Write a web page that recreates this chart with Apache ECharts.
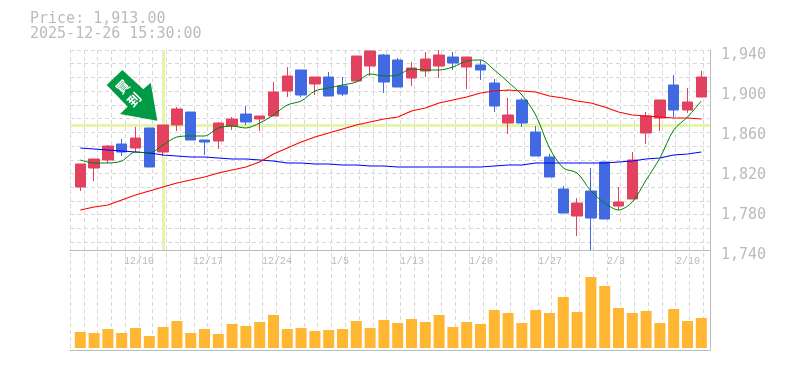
<!DOCTYPE html>
<html><head><meta charset="utf-8">
<style>html,body{margin:0;padding:0;background:#fff}#c{width:785px;height:370px}</style>
<script src="https://cdn.jsdelivr.net/npm/echarts@6/dist/echarts.min.js"></script>
</head><body><div id="c"></div>
<script>
const dates = ['12/4','12/5','12/8','12/9','12/10','12/11','12/12','12/15','12/16','12/17','12/18','12/19','12/22','12/23','12/24','12/25','12/26','12/29','12/30','1/5','1/6','1/7','1/8','1/9','1/13','1/14','1/15','1/16','1/19','1/20','1/21','1/22','1/23','1/26','1/27','1/28','1/29','1/30','2/2','2/3','2/4','2/5','2/6','2/9','2/10','2/12'];
const tickDates = ['12/10','12/17','12/24','1/5','1/13','1/20','1/27','2/3','2/10'];
const opens  = [1806,1825,1833,1849,1845,1865,1841,1868,1881,1853,1852,1867,1879,1874,1877,1902,1923,1909,1916,1907,1912,1927,1938,1933,1915,1922,1927,1936,1926,1928,1910,1870,1893,1861,1836,1804,1777,1802,1831,1787,1794,1860,1875,1908,1883,1896];
const closes = [1829,1834,1847,1841,1855,1826,1868,1884,1853,1851,1870,1874,1871,1877,1901,1917,1898,1916,1897,1899,1937,1942,1911,1906,1925,1934,1938,1930,1936,1923,1887,1878,1870,1837,1816,1780,1790,1775,1774,1791,1833,1877,1893,1883,1891,1916];
const lows   = [1802,1812,1830,1837,1841,1826,1837,1862,1853,1838,1844,1863,1868,1862,1877,1896,1896,1898,1897,1897,1912,1917,1900,1906,1907,1916,1915,1923,1904,1913,1881,1859,1866,1837,1816,1780,1757,1743,1774,1783,1794,1849,1862,1876,1880,1896];
const highs  = [1829,1834,1848,1854,1866,1865,1868,1886,1881,1853,1871,1876,1887,1877,1911,1926,1923,1916,1921,1916,1937,1943,1939,1935,1931,1941,1943,1941,1936,1933,1914,1895,1895,1867,1839,1807,1795,1825,1831,1806,1841,1881,1893,1918,1905,1922];
const maShort = [1833,1830,1830,1832,1841,1840,1848,1856,1857,1857,1865,1867,1865,1870,1878,1888,1892,1902,1905,1908,1911,1919,1917,1918,1924,1923,1923,1926,1932,1933,1923,1911,1898,1878,1845,1825,1820,1802,1790,1783,1791,1813,1835,1863,1876,1892];
const maMid   = [1783,1786,1788,1793,1798,1802,1806,1810,1813,1816,1820,1823,1826,1831,1839,1845,1851,1856,1860,1864,1868,1871,1874,1876,1882,1885,1890,1893,1896,1900,1902,1903,1902,1901,1897,1895,1892,1890,1886,1881,1878,1877,1876,1875,1875,1874];
const maLong  = [1845,1844,1843,1842,1841,1840,1838,1837,1836,1836,1835,1834,1834,1833,1832,1830,1830,1829,1829,1828,1828,1827,1827,1826,1826,1826,1826,1826,1826,1826,1827,1828,1828,1830,1830,1830,1830,1830,1830,1831,1832,1834,1835,1838,1839,1841];
const volumes = [16,15,19,15,20,12,21,27,15,19,14,24,22,26,33,19,20,17,18,19,27,20,28,25,29,26,33,21,26,24,38,35,25,38,35,51,36,71,62,40,35,37,25,39,27,30];
const priceTicks = [1740,1780,1820,1860,1900,1940];
const currentLevel = 1867.5;
const signalDate = '12/12';

const RED='#e2415f', BLUE='#4169e1', GRAY='#bbbbbb', LAT='#d8d8d8', CROSS='#e4f5a9';
const MONO='"DejaVu Sans Mono","Liberation Mono",monospace';
const MONO2='"Liberation Mono","DejaVu Sans Mono",monospace';
const candles = dates.map((d,i)=>[opens[i],closes[i],lows[i],highs[i]]);
const off = {show:false};
const latStyle = {show:true,lineStyle:{color:LAT,width:1,type:[4,3]}};

const chart = echarts.init(document.getElementById('c'),null,{renderer:'canvas'});
chart.setOption({
  animation:false,
  backgroundColor:'#fff',
  title:{text:'Price: 1,913.00\n2025-12-26 15:30:00',left:30,top:12,padding:0,
    textStyle:{fontFamily:MONO,fontSize:15,fontWeight:'normal',color:GRAY,lineHeight:15}},
  grid:[
    {left:73.4,width:634.8,top:50,height:203},
    {left:73.4,width:634.8,top:250,height:98},
    {left:70,width:640,top:50,height:300},
    {left:70,width:640,top:50,height:200},
    {left:61.9,width:634.8,top:250,height:1},
    {left:70,width:640,top:50,height:203},
    {left:70,width:638,top:52,height:203}
  ],
  xAxis:[
    {type:'category',gridIndex:0,data:dates,axisLine:off,axisTick:off,axisLabel:off,splitLine:off},
    {type:'category',gridIndex:1,data:dates,axisLine:off,axisTick:off,axisLabel:off,splitLine:off},
    {type:'value',gridIndex:2,min:0,max:46.5,interval:1,axisTick:off,axisLabel:off,
      axisLine:{show:true,onZero:false,lineStyle:{color:GRAY,width:1}},splitLine:latStyle},
    {type:'value',gridIndex:3,min:0,max:1,axisTick:off,axisLabel:off,splitLine:off,
      axisLine:{show:true,onZero:false,lineStyle:{color:GRAY,width:1}}},
    {type:'category',gridIndex:4,data:dates,axisLine:off,axisTick:off,splitLine:off,
      axisLabel:{show:true,align:'left',margin:5,color:GRAY,fontFamily:MONO2,fontSize:10,
        hideOverlap:false,
        interval:(i,v)=>tickDates.includes(v)}},
    {type:'value',gridIndex:5,min:0,max:1,axisLine:off,axisTick:off,axisLabel:off,splitLine:off},
    {type:'value',gridIndex:6,min:0,max:1,axisLine:off,axisTick:off,axisLabel:off,splitLine:off}
  ],
  yAxis:[
    {type:'value',gridIndex:0,min:1740,max:1943,axisLine:off,axisTick:off,axisLabel:off,splitLine:off},
    {type:'value',gridIndex:1,min:0,max:98,axisLine:off,axisTick:off,axisLabel:off,splitLine:off},
    {type:'value',gridIndex:2,position:'right',min:0,max:1,axisTick:off,axisLabel:off,splitLine:off,
      axisLine:{show:true,onZero:false,lineStyle:{color:GRAY,width:1}}},
    {type:'value',gridIndex:3,inverse:true,min:0,max:14.57,interval:1,axisLine:off,axisTick:off,axisLabel:off,splitLine:latStyle},
    {type:'value',gridIndex:4,axisLine:off,axisTick:off,axisLabel:off,splitLine:off},
    {type:'value',gridIndex:5,min:1740,max:1943,axisLine:off,axisTick:off,axisLabel:off,splitLine:off},
    {type:'value',gridIndex:6,position:'right',min:1740,max:1943,interval:40,
      axisLine:off,axisTick:off,splitLine:off,
      axisLabel:{show:true,margin:13,color:GRAY,fontFamily:MONO,fontSize:15,showMaxLabel:false,
        formatter:v=>priceTicks.includes(v)?String(v).replace(/(\d)(\d{3})$/,'$1,$2'):''}}
  ],
  series:[
    {type:'line',xAxisIndex:5,yAxisIndex:5,data:[],z:1,silent:true,
      markLine:{silent:true,symbol:'none',label:off,z:1,animation:false,
        lineStyle:{color:CROSS,width:3,type:'solid'},
        data:[{yAxis:currentLevel}]}},
    {type:'line',xAxisIndex:0,yAxisIndex:0,data:[],z:1,silent:true,
      markLine:{silent:true,symbol:'none',label:off,z:1,animation:false,
        lineStyle:{color:CROSS,width:3,type:'solid'},
        data:[[{coord:[signalDate,1943]},{coord:[signalDate,1743]}]]}},
    {type:'candlestick',xAxisIndex:0,yAxisIndex:0,data:candles,barWidth:11,z:3,
      itemStyle:{color:RED,color0:BLUE,borderColor:RED,borderColor0:BLUE,borderWidth:1}},
    {type:'line',xAxisIndex:0,yAxisIndex:0,data:maLong,showSymbol:false,z:4,
      lineStyle:{color:'#0000ff',width:1.1}},
    {type:'line',xAxisIndex:0,yAxisIndex:0,data:maMid,showSymbol:false,z:4,
      lineStyle:{color:'#ff0000',width:1.1}},
    {type:'line',xAxisIndex:0,yAxisIndex:0,data:maShort,showSymbol:false,smooth:0.3,z:4,
      lineStyle:{color:'#008000',width:1}},
    {type:'bar',xAxisIndex:1,yAxisIndex:1,data:volumes,barWidth:11,z:3,itemStyle:{color:'#ffb733'}}
  ],
  graphic:[
    {type:'polygon',z:50,shape:{points:[[106.7,85],[122.3,70],[143.3,89.3],[150.7,82.7],[157.3,120.7],[120,114],[127.7,106.7]]},
      style:{fill:'#009a44'}},
    {type:'text',z:51,x:122.7,y:86.7,rotation:Math.PI/4,
      style:{text:'買',fill:'#fff',fontSize:13,fontWeight:'bold',fontFamily:'"Noto Sans CJK JP"',align:'center',verticalAlign:'middle'}},
    {type:'text',z:51,x:134,y:99.3,rotation:Math.PI/4,
      style:{text:'到',fill:'#fff',fontSize:13,fontWeight:'bold',fontFamily:'"Noto Sans CJK JP"',align:'center',verticalAlign:'middle'}}
  ]
});
</script></body></html>
